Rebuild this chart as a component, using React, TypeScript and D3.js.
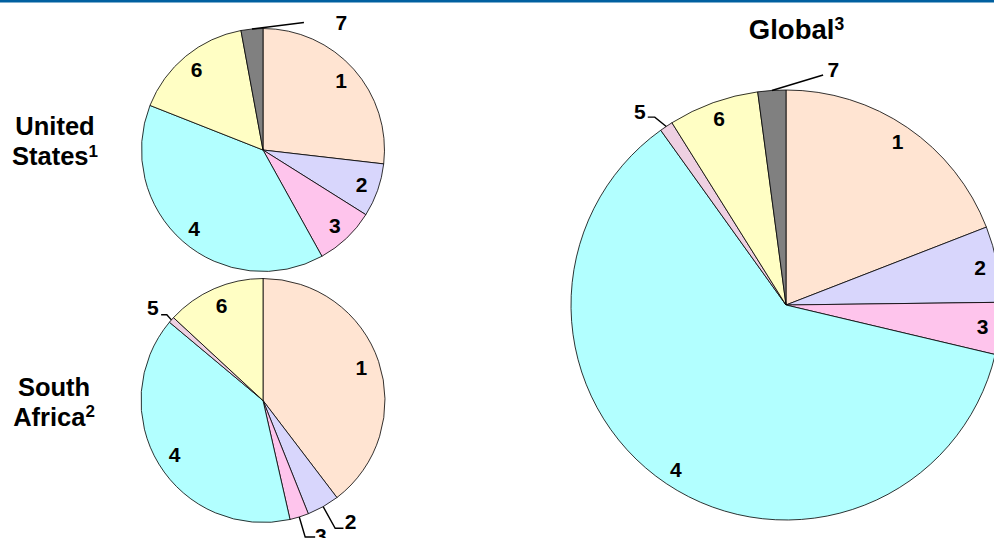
import React from 'react';
import * as d3 from 'd3';

// ---- data ----
const categories = ['1', '2', '3', '4', '5', '6', '7'];
const usValues = [26.8, 7.1, 8.0, 39.0, 0, 16.1, 2.9];
const saValues = [39.6, 4.3, 2.5, 39.6, 0.8, 13.1, 0];
const globalValues = [19.1, 5.7, 3.9, 61.4, 1.0, 6.8, 2.1];
const sliceColors = ['#FFE4D2', '#D8D6FC', '#FEC4EC', '#B2FFFF', '#EED0E2', '#FFFEC4', '#808080'];

// ---- layout ----
type Leader = { cat: string; elbow?: [number, number]; end: [number, number]; label: [number, number] };
type PieCfg = {
  key: string;
  values: number[];
  cx: number;
  cy: number;
  r: number;
  labelRatio: number;
  inside: string[];
  leaders: Leader[];
};

const pies: PieCfg[] = [
  {
    key: 'us', values: usValues, cx: 263, cy: 150, r: 121.5, labelRatio: 0.86,
    inside: ['1', '2', '3', '4', '6'],
    leaders: [{ cat: '7', end: [52, -6.5], label: [89.5, -6.2] }],
  },
  {
    key: 'sa', values: saValues, cx: 263, cy: 400.5, r: 122, labelRatio: 0.85,
    inside: ['1', '4', '6'],
    leaders: [
      { cat: '5', elbow: [-4.6, -5.1], end: [-10.3, -5.1], label: [-18.5, -12] },
      { cat: '2', elbow: [12, 21.6], end: [20.3, 21.6], label: [27.5, 15] },
      { cat: '3', elbow: [5.9, 20], end: [15.9, 20], label: [21.5, 19] },
    ],
  },
  {
    key: 'global', values: globalValues, cx: 786, cy: 305, r: 215, labelRatio: 0.92,
    inside: ['1', '2', '3', '4', '6'],
    leaders: [
      { cat: '7', end: [51.3, -15.5], label: [61.5, -20.5] },
      { cat: '5', elbow: [-11.5, -9.3], end: [-18.5, -9.3], label: [-26.5, -14.6] },
    ],
  },
];

const FONT = 'Arial, "Liberation Sans", Helvetica, sans-serif';
const LABEL_SIZE = 21;

function Pie({ cfg }: { cfg: PieCfg }) {
  const data = categories.map((c, i) => ({ cat: c, value: cfg.values[i], color: sliceColors[i] }));
  const arcs = d3.pie<any>().sort(null).value((d: any) => d.value).startAngle(0).endAngle(2 * Math.PI)(data);
  const arcGen = d3.arc<any>().innerRadius(0).outerRadius(cfg.r);
  const labelArc = d3.arc<any>().innerRadius(cfg.r * cfg.labelRatio).outerRadius(cfg.r * cfg.labelRatio);
  const pointArc = d3.arc<any>().innerRadius(cfg.r).outerRadius(cfg.r);
  const byCat = new Map(arcs.map((a) => [a.data.cat, a]));
  return (
    <g transform={`translate(${cfg.cx},${cfg.cy})`}>
      {arcs.filter((a) => a.data.value > 0).map((a) => (
        <path key={a.data.cat} d={arcGen(a) as string} fill={a.data.color} stroke="#000" strokeWidth={0.8} strokeLinejoin="round" />
      ))}
      {cfg.inside.map((c) => {
        const a = byCat.get(c)!;
        const [x, y] = labelArc.centroid(a);
        return (
          <text key={'l' + c} x={x} y={y} textAnchor="middle" dominantBaseline="central" fontFamily={FONT} fontWeight="bold" fontSize={LABEL_SIZE}>
            {c}
          </text>
        );
      })}
      {cfg.leaders.map((l) => {
        const a = byCat.get(l.cat)!;
        const [px, py] = pointArc.centroid(a);
        const pts: [number, number][] = [[px, py]];
        if (l.elbow) pts.push([px + l.elbow[0], py + l.elbow[1]]);
        pts.push([px + l.end[0], py + l.end[1]]);
        const line = d3.line()(pts) as string;
        return (
          <g key={'ld' + l.cat}>
            <path d={line} fill="none" stroke="#000" strokeWidth={1.4} />
            <text x={px + l.label[0]} y={py + l.label[1]} textAnchor="middle" dominantBaseline="central" fontFamily={FONT} fontWeight="bold" fontSize={LABEL_SIZE}>
              {l.cat}
            </text>
          </g>
        );
      })}
    </g>
  );
}

function Title({ x, y, lines, sup, lh, size, supSize, supDy }: { x: number; y: number; lines: string[]; sup: string; lh: number; size: number; supSize: number; supDy: number }) {
  return (
    <text x={x} y={y} textAnchor="middle" fontFamily={FONT} fontWeight="bold" fontSize={size}>
      {lines.map((ln, i) => (
        <tspan key={i} x={x} dy={i === 0 ? 0 : lh}>
          {ln}
          {i === lines.length - 1 ? (
            <tspan fontSize={supSize} dy={supDy}>{sup}</tspan>
          ) : null}
        </tspan>
      ))}
    </text>
  );
}

export default function App() {
  return (
    <svg width={994} height={538} style={{ position: 'fixed', left: 0, top: 0, background: '#fff' }}>
      <rect x={0} y={0} width={994} height={538} fill="#fff" />
      <rect x={0} y={0} width={994} height={2.5} fill="#0060A0" />
      {pies.map((p) => (
        <Pie key={p.key} cfg={p} />
      ))}
      <Title x={55} y={135} lines={['United', 'States']} sup="1" lh={30} size={25.5} supSize={17} supDy={-8.5} />
      <Title x={54} y={395.5} lines={['South', 'Africa']} sup="2" lh={30} size={25.5} supSize={17} supDy={-8.5} />
      <Title x={796.5} y={38.5} lines={['Global']} sup="3" lh={0} size={27.5} supSize={17.5} supDy={-9} />
    </svg>
  );
}
